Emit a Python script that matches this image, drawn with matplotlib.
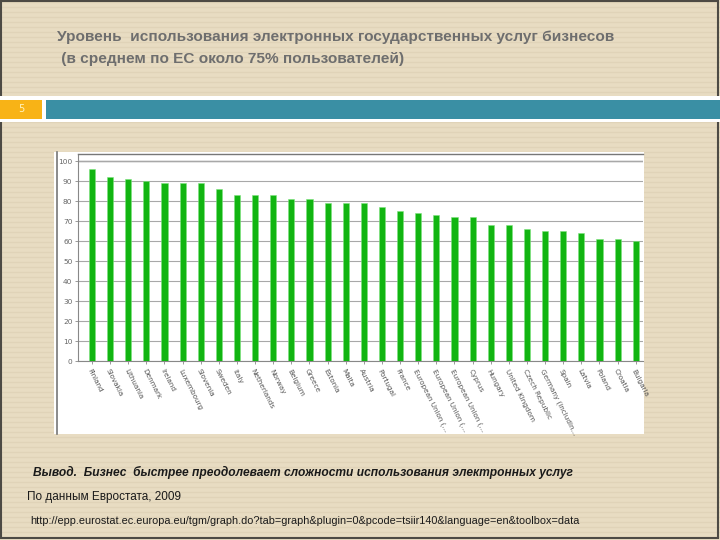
import numpy as np
import matplotlib
matplotlib.use("Agg")
import matplotlib.pyplot as plt
from matplotlib.patches import Rectangle

# данные (Евростат, 2009)
countries = ["Finland", "Slovakia", "Lithuania", "Denmark", "Ireland", "Luxembourg",
             "Slovenia", "Sweden", "Italy", "Netherlands", "Norway", "Belgium", "Greece",
             "Estonia", "Malta", "Austria", "Portugal", "France",
             "European Union (...", "European Union (...", "European Union (...",
             "Cyprus", "Hungary", "United Kingdom", "Czech Republic",
             "Germany (includin...", "Spain", "Latvia", "Poland", "Croatia", "Bulgaria"]
values = [96, 92, 91, 90, 89, 89, 89, 86, 83, 83, 83, 81, 81, 79, 79, 79, 77, 75,
          74, 73, 72, 72, 68, 68, 66, 65, 65, 64, 61, 61, 60]
yticks = [0, 10, 20, 30, 40, 50, 60, 70, 80, 90, 100]

title1 = "Уровень  использования электронных государственных услуг бизнесов"
title2 = " (в среднем по ЕС около 75% пользователей)"
conclusion = "Вывод.  Бизнес  быстрее преодолевает сложности использования электронных услуг"
source = "По данным Евростата, 2009"
url = "http://epp.eurostat.ec.europa.eu/tgm/graph.do?tab=graph&plugin=0&pcode=tsiir140&language=en&toolbox=data"

W, H = 720, 540
fig = plt.figure(figsize=(7.2, 5.4), dpi=100)
fig.patch.set_facecolor("#e8dcc2")

# фон слайда с полосками
bg = fig.add_axes([0, 0, 1, 1])
bg.set_xlim(0, W)
bg.set_ylim(H, 0)
bg.axis("off")
for yy in np.arange(2, H, 5):
    bg.axhline(yy, color="#e0d3b8", lw=1.0, zorder=0)
bg.add_patch(Rectangle((1, 1), W - 3, H - 3, fill=False, ec="#4d4a44", lw=1.5, zorder=1))

# заголовок
bg.text(57, 37, title1, fontsize=11.1, fontweight="bold", color="#6e6e6e",
        family="Liberation Sans", va="center", ha="left")
bg.text(57, 59, title2, fontsize=11.1, fontweight="bold", color="#6e6e6e",
        family="Liberation Sans", va="center", ha="left")

# полоса с номером слайда
bg.add_patch(Rectangle((0, 96), W, 26, fc="white", ec="none", zorder=2))
bg.add_patch(Rectangle((0, 100), 42, 19, fc="#f8b316", ec="none", zorder=3))
bg.add_patch(Rectangle((46, 100), W - 46, 19, fc="#3a8fa4", ec="none", zorder=3))
bg.text(21, 109.5, "5", fontsize=7, color="#fff3c0", ha="center", va="center", zorder=4)

# белая подложка графика
bg.add_patch(Rectangle((54, 152), 590, 282, fc="white", ec="none", zorder=2))
bg.plot([57, 57], [152, 434], color="#777777", lw=1.2, zorder=3)

# нижние подписи
bg.text(33, 472, conclusion, fontsize=8.65, fontweight="bold", style="italic",
        color="#1a1a1a", family="Liberation Sans", va="center", ha="left")
bg.text(27, 497, source, fontsize=8.5, color="#1a1a1a", family="Liberation Sans",
        va="center", ha="left")
bg.text(30, 521, url, fontsize=7.8, color="#1a1a1a", family="Liberation Sans",
        va="center", ha="left")

# сам график
ax = fig.add_axes([78 / W, 1 - 361 / H, 565 / W, 207 / H])
x = np.arange(len(countries))
ax.bar(x, values, width=0.34, color="#11b511", edgecolor="#7ee37e", linewidth=0.4, zorder=3)
ax.set_xlim(-0.77, 30.4)
ax.set_ylim(0, 103.5)
ax.set_yticks(yticks)
ax.set_yticklabels([str(v) for v in yticks], fontsize=5.3, color="#666666")
ax.yaxis.grid(True, color="#a8a8a8", lw=0.8, zorder=0)
ax.set_xticks(x)
ax.set_xticklabels(countries, rotation=-63, ha="left", va="top",
                   rotation_mode="anchor", fontsize=5.2, color="#555555")
ax.tick_params(axis="y", length=2, width=0.6, color="#888888", pad=2)
ax.tick_params(axis="x", length=2, width=0.6, color="#888888", pad=3)
ax.spines["right"].set_visible(False)
ax.spines["top"].set_color("#777777")
ax.spines["top"].set_linewidth(1.0)
ax.spines["left"].set_color("#888888")
ax.spines["left"].set_linewidth(0.8)
ax.spines["bottom"].set_color("#888888")
ax.spines["bottom"].set_linewidth(0.8)
ax.axhline(100, color="#8a8a8a", lw=1.0, zorder=1)

fig.savefig("out.png", dpi=100)
